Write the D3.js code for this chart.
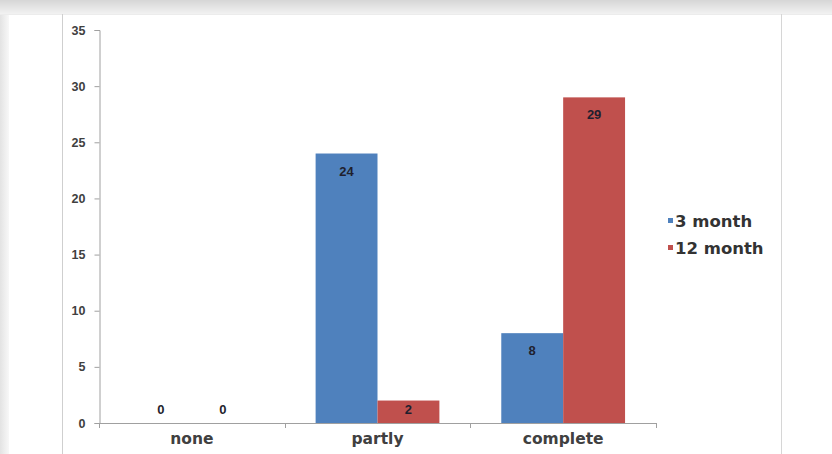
<!DOCTYPE html>
<html>
<head>
<meta charset="utf-8">
<script src="https://cdn.jsdelivr.net/npm/d3@7"></script>
<style>
  html, body { margin: 0; padding: 0; background: #fff; }
  svg { display: block; }
</style>
</head>
<body>
<svg id="chart" width="832" height="454"></svg>
<script>
// Outcome categories and counts at each follow-up
const categories = ["none", "partly", "complete"];
const seriesNames = ["3 month", "12 month"];
const threeMonth = [0, 24, 8];
const twelveMonth = [0, 2, 29];
const yTicks = [0, 5, 10, 15, 20, 25, 30, 35];
const colors = ["#4F81BD", "#C0504D"];

const series = [threeMonth, twelveMonth];
const svg = d3.select("#chart");
const W = 832, H = 454;

// Page backdrop: soft shadow along the top and left edges
const defs = svg.append("defs");
const gTop = defs.append("linearGradient").attr("id", "topShade")
  .attr("x1", 0).attr("y1", 0).attr("x2", 0).attr("y2", 1);
gTop.append("stop").attr("offset", "0%").attr("stop-color", "#d6d6d6");
gTop.append("stop").attr("offset", "100%").attr("stop-color", "#f2f2f2");
const gLeft = defs.append("linearGradient").attr("id", "leftShade")
  .attr("x1", 0).attr("y1", 0).attr("x2", 1).attr("y2", 0);
gLeft.append("stop").attr("offset", "0%").attr("stop-color", "#e3e3e3");
gLeft.append("stop").attr("offset", "100%").attr("stop-color", "#f8f8f8");

svg.append("rect").attr("width", W).attr("height", H).attr("fill", "#fff");
svg.append("rect").attr("x", 0).attr("y", 14).attr("width", 9).attr("height", H - 14).attr("fill", "url(#leftShade)");
svg.append("rect").attr("x", 0).attr("y", 0).attr("width", W).attr("height", 14).attr("fill", "url(#topShade)");
svg.append("line").attr("x1", 0).attr("x2", W).attr("y1", 14.5).attr("y2", 14.5).attr("stroke", "#ececec");
svg.append("line").attr("x1", 62.5).attr("x2", 62.5).attr("y1", 14).attr("y2", H).attr("stroke", "#cfcfcf");
svg.append("line").attr("x1", 781.5).attr("x2", 781.5).attr("y1", 14).attr("y2", H).attr("stroke", "#d6d6d6");

// Scales
const x0 = d3.scaleBand().domain(categories).range([99, 656]).padding(0);
const x1 = d3.scaleBand().domain(seriesNames)
  .range([x0.bandwidth() / 6, x0.bandwidth() * 5 / 6]).padding(0);
const y = d3.scaleLinear().domain([0, 35]).range([423, 30]);

// Y axis
const yAxis = svg.append("g").attr("transform", "translate(99.5,0)")
  .call(d3.axisLeft(y).tickValues(yTicks).tickSize(5).tickPadding(9));
yAxis.select(".domain").attr("stroke", "#a0a0a0");
yAxis.selectAll(".tick line").attr("stroke", "#a0a0a0");
yAxis.selectAll("text")
  .attr("font-family", "'Liberation Sans Narrow', 'Liberation Sans', Arial, sans-serif")
  .attr("font-weight", "bold").attr("font-size", 12.5).attr("fill", "#404040");

// X axis line with tick marks on category boundaries
const xg = svg.append("g");
xg.append("line").attr("x1", 99).attr("x2", 656)
  .attr("y1", y(0) + 0.5).attr("y2", y(0) + 0.5).attr("stroke", "#a0a0a0");
const bounds = categories.map(c => x0(c)).concat([x0(categories[categories.length - 1]) + x0.bandwidth()]);
xg.selectAll("line.tk").data(bounds).join("line").attr("class", "tk")
  .attr("x1", d => Math.round(d) + 0.5).attr("x2", d => Math.round(d) + 0.5)
  .attr("y1", y(0)).attr("y2", y(0) + 5).attr("stroke", "#a0a0a0");
xg.selectAll("text").data(categories).join("text")
  .attr("x", d => x0(d) + x0.bandwidth() / 2).attr("y", 444)
  .attr("text-anchor", "middle")
  .attr("font-family", "'DejaVu Sans', Verdana, sans-serif")
  .attr("font-weight", "bold").attr("font-size", 15.5).attr("fill", "#404040")
  .text(d => d);

// Bars
const rows = [];
categories.forEach((c, i) => {
  seriesNames.forEach((s, j) => rows.push({ cat: c, s, j, v: series[j][i] }));
});
svg.append("g").selectAll("rect").data(rows).join("rect")
  .attr("x", d => x0(d.cat) + x1(d.s))
  .attr("y", d => y(d.v))
  .attr("width", x1.bandwidth())
  .attr("height", d => y(0) - y(d.v))
  .attr("fill", d => colors[d.j]);

// Value labels inside the bar ends
svg.append("g").selectAll("text").data(rows).join("text")
  .attr("x", d => x0(d.cat) + x1(d.s) + x1.bandwidth() / 2)
  .attr("y", d => d.v >= 5 ? y(d.v) + 22 : y(0) - 9)
  .attr("text-anchor", "middle")
  .attr("font-family", "'Liberation Sans Narrow', 'Liberation Sans', Arial, sans-serif")
  .attr("font-weight", "bold").attr("font-size", 13).attr("fill", "#1f1f2e")
  .text(d => d.v);

// Legend
const legend = svg.append("g").selectAll("g").data(seriesNames).join("g")
  .attr("transform", (d, i) => `translate(668,${222 + i * 27})`);
legend.append("rect").attr("x", 0).attr("y", -4).attr("width", 5).attr("height", 5)
  .attr("fill", (d, i) => colors[i]);
legend.append("text").attr("x", 7).attr("y", 5)
  .attr("font-family", "'DejaVu Sans', Verdana, sans-serif")
  .attr("font-weight", "bold").attr("font-size", 16.5).attr("fill", "#333")
  .text(d => d);
</script>
</body>
</html>
